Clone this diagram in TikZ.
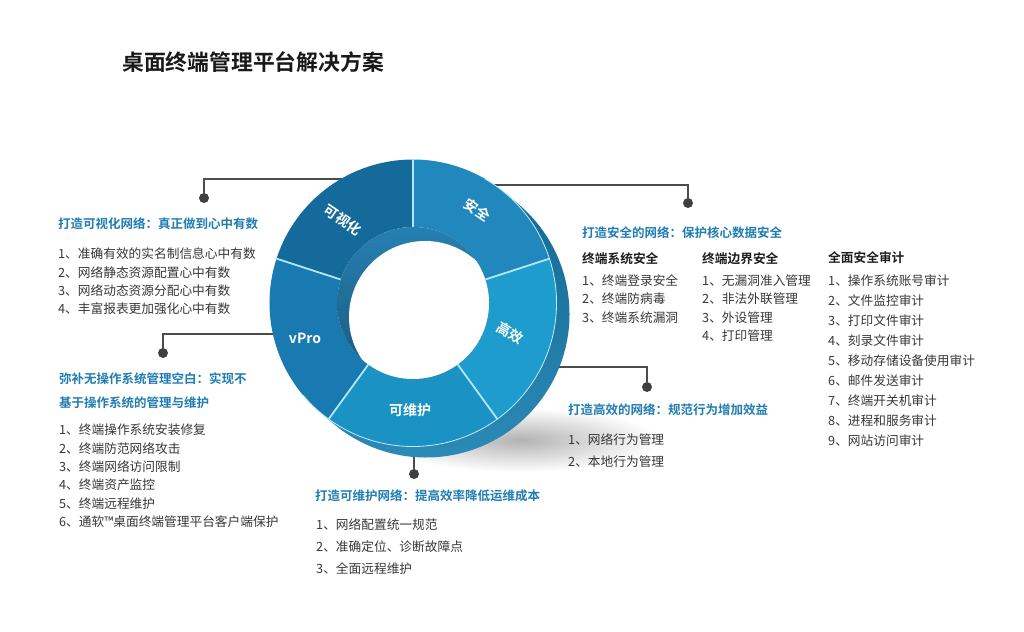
\documentclass[tikz,border=0pt]{standalone}
\usepackage{fontspec}
\setmainfont{Noto Sans CJK SC}[BoldFont={Noto Sans CJK SC Bold}]

\definecolor{headblue}{RGB}{32,124,178}
\definecolor{bodygray}{RGB}{55,55,55}
\definecolor{segaq}{RGB}{33,136,190}
\definecolor{segvis}{RGB}{21,106,156}
\definecolor{segvp}{RGB}{24,122,176}
\definecolor{segmnt}{RGB}{27,146,196}
\definecolor{segeff}{RGB}{30,156,205}
\definecolor{sidetop}{RGB}{45,140,185}
\definecolor{sidebot}{RGB}{20,105,148}
\definecolor{wallcol}{RGB}{38,128,178}

\tikzset{
  title/.style={anchor=west, inner sep=0pt, text=black!90, font=\bfseries\fontsize{21.8}{26}\selectfont},
  head/.style={anchor=west, inner sep=0pt, text=headblue, align=left, font=\bfseries\fontsize{12.5}{24}\selectfont},
  subhead/.style={anchor=west, inner sep=0pt, text=black!88, font=\bfseries\fontsize{12.7}{15}\selectfont},
  item/.style={anchor=west, inner sep=0pt, text=bodygray, font=\fontsize{12.7}{15}\selectfont},
  seglabel/.style={inner sep=0pt, text=white, font=\bfseries\fontsize{14}{16}\selectfont},
  ringdot/.style={circle, fill=black!75, inner sep=0pt, minimum size=10pt},
  connector/.style={draw=black!70, line width=1.1pt},
  divider/.style={draw=cyan!30!white, line width=1.8pt}
}

\begin{document}
\begin{tikzpicture}[x=1pt, y=-1pt]

    \useasboundingbox (0,0) rectangle (1024,631);

    % Title
    \node[title] (title) at (122,62) {桌面终端管理平台解决方案};

    % Shadow of the ring
    \shade[inner color=black!30, outer color=white] (520,440) ellipse (140 and 32);

    % Connectors from the dots to the ring
    \node[ringdot] (dotvis) at (204,198) {};
    \node[ringdot] (dotvp) at (163,353) {};
    \node[ringdot] (dotaq) at (688,203) {};
    \node[ringdot] (doteff) at (647,387) {};
    \node[ringdot] (dotmnt) at (414,474) {};
    \coordinate (ringvis) at (380,179);
    \coordinate (ringvp) at (300,334);
    \coordinate (ringaq) at (470,185);
    \coordinate (ringeff) at (530,367);
    \coordinate (ringmnt) at (414,440);
    \draw[connector] (dotvis) |- (ringvis);
    \draw[connector] (dotvp) |- (ringvp);
    \draw[connector] (dotaq) |- (ringaq);
    \draw[connector] (doteff) |- (ringeff);
    \draw[connector] (dotmnt) -- (ringmnt);

    % The ring (y points up inside this scope)
    \begin{scope}[shift={(413,303)}, yscale=-1]
        % side of the ring
        \shade[top color=sidebot, bottom color=sidetop]
            (50:143.5) -- ++(13,-11) arc (50:-130:143.5) -- ++(-13,11) arc (230:410:143.5) -- cycle;
        % five segments of the front face
        \foreach \a/\b/\c in {18/90/segaq, 90/162/segvis, 162/234/segvp, 234/306/segmnt, 306/378/segeff}
            \fill[\c] (\a:76) -- (\a:143.5) arc (\a:\b:143.5) -- (\b:76) arc (\b:\a:76) -- cycle;
        \foreach \a in {18,90,162,234,306}
            \draw[divider] (\a:76) -- (\a:143.5);
        \draw[cyan!25!white, line width=0.8pt] (60:143.5) arc (60:-140:143.5);
        % inner wall and hole
        \shade[top color=wallcol, bottom color=wallcol!70!black] (0,0) circle (76);
        \begin{scope}
            \clip (0,0) circle (76);
            \fill[white] (12,-14) circle (76);
        \end{scope}
    \end{scope}

    % Segment labels
    \node[seglabel, rotate=-34] (lblvis) at (343,220) {可视化};
    \node[seglabel, rotate=-34] (lblaq) at (477,210) {安全};
    \node[seglabel, rotate=-30] (lbleff) at (510,333) {高效};
    \node[seglabel] (lblmnt) at (410,410) {可维护};
    \node[seglabel] (lblvp) at (305,338) {vPro};

    % Visual network
    \node[head] (headvis) at (58,224) {打造可视化网络：真正做到心中有数};
    \foreach \t [count=\i] in {1、准确有效的实名制信息心中有数,
        2、网络静态资源配置心中有数,
        3、网络动态资源分配心中有数,
        4、丰富报表更加强化心中有数}
        \node[item] (vis\i) at (58,{254+18.3*(\i-1)}) {\t};

    % vPro
    \node[head] (headvp) at (59,391) {弥补无操作系统管理空白：实现不\\基于操作系统的管理与维护};
    \foreach \t [count=\i] in {1、终端操作系统安装修复,
        2、终端防范网络攻击,
        3、终端网络访问限制,
        4、终端资产监控,
        5、终端远程维护,
        6、通软™桌面终端管理平台客户端保护}
        \node[item] (vp\i) at (59,{430+18.3*(\i-1)}) {\t};

    % Security
    \node[head] (headaq) at (582,233) {打造安全的网络：保护核心数据安全};
    \node[subhead] (subsys) at (582,259) {终端系统安全};
    \node[subhead] (subbnd) at (702,259) {终端边界安全};
    \node[subhead] (subaud) at (828,258) {全面安全审计};
    \foreach \t [count=\i] in {1、终端登录安全,
        2、终端防病毒,
        3、终端系统漏洞}
        \node[item] (sys\i) at (582,{281+18.1*(\i-1)}) {\t};
    \foreach \t [count=\i] in {1、无漏洞准入管理,
        2、非法外联管理,
        3、外设管理,
        4、打印管理}
        \node[item] (bnd\i) at (702,{281+18.1*(\i-1)}) {\t};
    \foreach \t [count=\i] in {1、操作系统账号审计,
        2、文件监控审计,
        3、打印文件审计,
        4、刻录文件审计,
        5、移动存储设备使用审计,
        6、邮件发送审计,
        7、终端开关机审计,
        8、进程和服务审计,
        9、网站访问审计}
        \node[item] (aud\i) at (828,{281+19.9*(\i-1)}) {\t};

    % Efficiency
    \node[head] (headeff) at (568,410) {打造高效的网络：规范行为增加效益};
    \foreach \t [count=\i] in {1、网络行为管理,
        2、本地行为管理}
        \node[item] (eff\i) at (568,{440+21.5*(\i-1)}) {\t};

    % Maintenance
    \node[head] (headmnt) at (315,496) {打造可维护网络：提高效率降低运维成本};
    \foreach \t [count=\i] in {1、网络配置统一规范,
        2、准确定位、诊断故障点,
        3、全面远程维护}
        \node[item] (mnt\i) at (316,{525+22*(\i-1)}) {\t};

\end{tikzpicture}
\end{document}
